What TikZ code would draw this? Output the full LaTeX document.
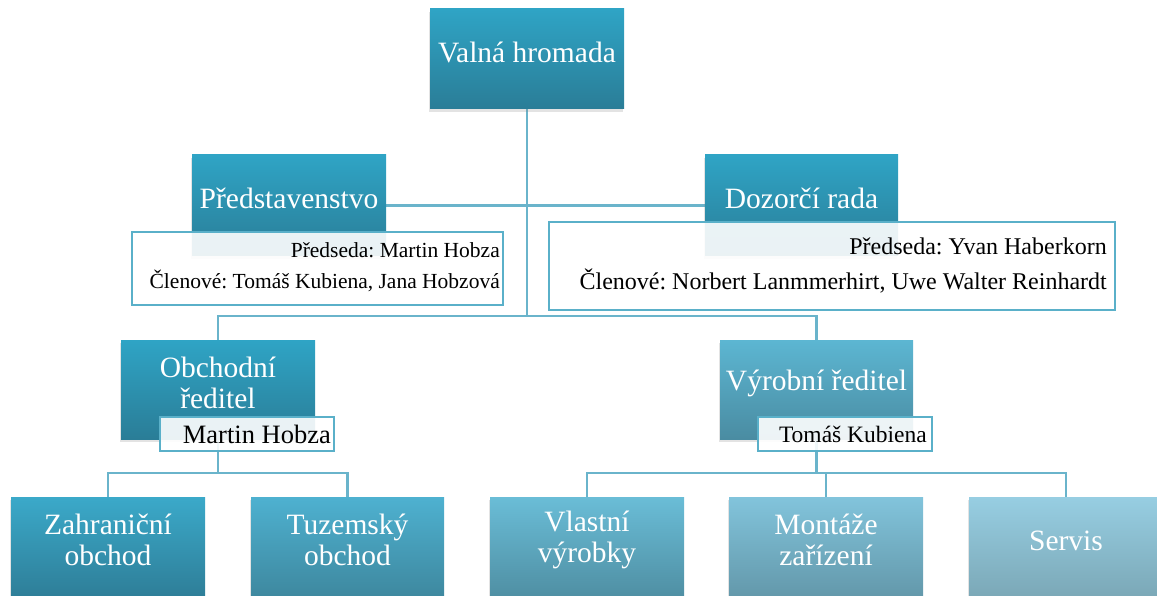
\documentclass[tikz,border=0pt]{standalone}
\usepackage{fontspec}
\setmainfont{Liberation Serif}
\usetikzlibrary{shadows}
\frenchspacing
\definecolor{lineC}{HTML}{6AB4CB}
\definecolor{frameC}{HTML}{5AB0C9}
\definecolor{aTop}{HTML}{2FA4C5}
\definecolor{aBot}{HTML}{2A7D97}
\definecolor{vyrTop}{HTML}{5CB6D2}
\definecolor{vyrBot}{HTML}{4A8CA2}
\definecolor{zahTop}{HTML}{3BA9C9}
\definecolor{zahBot}{HTML}{2E7E98}
\definecolor{tuzTop}{HTML}{4EB1D0}
\definecolor{tuzBot}{HTML}{3E889F}
\definecolor{vlTop}{HTML}{6ABDD7}
\definecolor{vlBot}{HTML}{4F8FA3}
\definecolor{monTop}{HTML}{82C4DC}
\definecolor{monBot}{HTML}{6398AA}
\definecolor{serTop}{HTML}{97CEE2}
\definecolor{serBot}{HTML}{7BA8B7}
\begin{document}
\begin{tikzpicture}[x=1pt,y=-1pt,
  box/.style={minimum width=194pt, minimum height=100pt, inner sep=0pt,
    drop shadow={shadow xshift=-1.5pt, shadow yshift=-3pt, opacity=0.22}},
  boxtext/.style={text=white, align=center, inner sep=0pt,
    font=\fontsize{29.5}{31}\selectfont},
  tbox/.style={draw=frameC, line width=2pt, fill=white, fill opacity=0.9, inner sep=0pt},
  conn/.style={draw=lineC, line width=2.2pt}]
\useasboundingbox (0,0) rectangle (1157,596);
% hub coordinates
\coordinate (hubA) at (527,205);
\coordinate (hubB) at (527,316);
\coordinate (hubL) at (218,473);
\coordinate (hubR) at (816.5,473);
% box positions (named, invisible; drawn on top later)
\begin{scope}[overlay]
\path node[minimum width=194pt, minimum height=100pt] (valna) at (527,59) {};
\path node[minimum width=194pt, minimum height=101pt] (pred) at (289,205.5) {};
\path node[minimum width=193pt, minimum height=101pt] (doz) at (801.5,205.5) {};
\path node[minimum width=194pt, minimum height=99pt] (obch) at (218,389.5) {};
\path node[minimum width=193pt, minimum height=99pt] (vyr) at (816.5,389.5) {};
\path node[minimum width=194pt, minimum height=100pt] (zah) at (108,547) {};
\path node[minimum width=193pt, minimum height=100pt] (tuz) at (347.5,547) {};
\path node[minimum width=194pt, minimum height=100pt] (vl) at (587,547) {};
\path node[minimum width=194pt, minimum height=100pt] (mon) at (826,547) {};
\path node[minimum width=194pt, minimum height=100pt] (ser) at (1066,547) {};
\end{scope}
% connectors
\draw[conn] (valna.south) -- (hubB);
\draw[conn] (pred.east) -- (doz.west);
\draw[conn] (obch.north) -- (obch.north |- hubB) -- (vyr.north |- hubB) -- (vyr.north);
\draw[conn] (obch.south) -- (hubL);
\draw[conn] (zah.north) -- (zah.north |- hubL) -- (tuz.north |- hubL) -- (tuz.north);
\draw[conn] (vyr.south) -- (hubR);
\draw[conn] (vl.north) -- (vl.north |- hubR) -- (ser.north |- hubR) -- (ser.north);
\draw[conn] (mon.north) -- (mon.north |- hubR);
% visible boxes
\node[box, top color=aTop, bottom color=aBot, minimum height=100pt] (valnaB) at (valna) {};
\node[box, top color=aTop, bottom color=aBot, minimum height=101pt] (predB) at (pred) {};
\node[box, top color=aTop, bottom color=aBot, minimum width=193pt, minimum height=101pt] (dozB) at (doz) {};
\node[box, top color=aTop, bottom color=aBot, minimum height=99pt] (obchB) at (obch) {};
\node[box, top color=vyrTop, bottom color=vyrBot, minimum width=193pt, minimum height=99pt] (vyrB) at (vyr) {};
\node[box, top color=zahTop, bottom color=zahBot] (zahB) at (zah) {};
\node[box, top color=tuzTop, bottom color=tuzBot, minimum width=193pt] (tuzB) at (tuz) {};
\node[box, top color=vlTop, bottom color=vlBot] (vlB) at (vl) {};
\node[box, top color=monTop, bottom color=monBot] (monB) at (mon) {};
\node[box, top color=serTop, bottom color=serBot] (serB) at (ser) {};
% box texts
\node[boxtext] (valnaT) at (527,52) {Valná hromada};
\node[boxtext] (predT) at (289,198) {Představenstvo};
\node[boxtext] (dozT) at (801.5,198) {Dozorčí rada};
\node[boxtext] (obchT) at (218,383) {Obchodní\\ředitel};
\node[boxtext] (vyrT) at (816.5,383) {Výrobní ředitel};
\node[boxtext] (zahT) at (108,540) {Zahraniční\\obchod};
\node[boxtext] (tuzT) at (347.5,540) {Tuzemský\\obchod};
\node[boxtext] (vlT) at (587,540) {Vlastní\\výrobky};
\node[boxtext] (monT) at (826,540) {Montáže\\zařízení};
\node[boxtext] (serT) at (1066,541) {Servis};
% member boxes
\node[tbox, minimum width=371pt, minimum height=73pt] (predM) at (317.5,268.5) {};
\node[anchor=east, align=right, inner sep=0pt, font=\fontsize{21.5}{31}\selectfont] (predMT) at (500,267.5)
  {Předseda: Martin Hobza\\Členové: Tomáš Kubiena, Jana Hobzová};
\node[tbox, minimum width=566pt, minimum height=88pt] (dozM) at (832,266) {};
\node[anchor=east, align=right, inner sep=0pt, font=\fontsize{24}{35}\selectfont] (dozMT) at (1107,265.5)
  {Předseda: Yvan Haberkorn\\Členové: Norbert Lanmmerhirt, Uwe Walter Reinhardt};
% director name boxes
\node[tbox, minimum width=174pt, minimum height=34pt] (obchN) at (247,434) {};
\node[anchor=east, inner sep=0pt, font=\fontsize{26.5}{28}\selectfont] (obchNT) at (331,434) {Martin Hobza};
\node[tbox, minimum width=174pt, minimum height=34pt] (vyrN) at (845,434) {};
\node[anchor=east, inner sep=0pt, font=\fontsize{23.5}{26}\selectfont] (vyrNT) at (927,434) {Tomáš Kubiena};
\end{tikzpicture}
\end{document}
